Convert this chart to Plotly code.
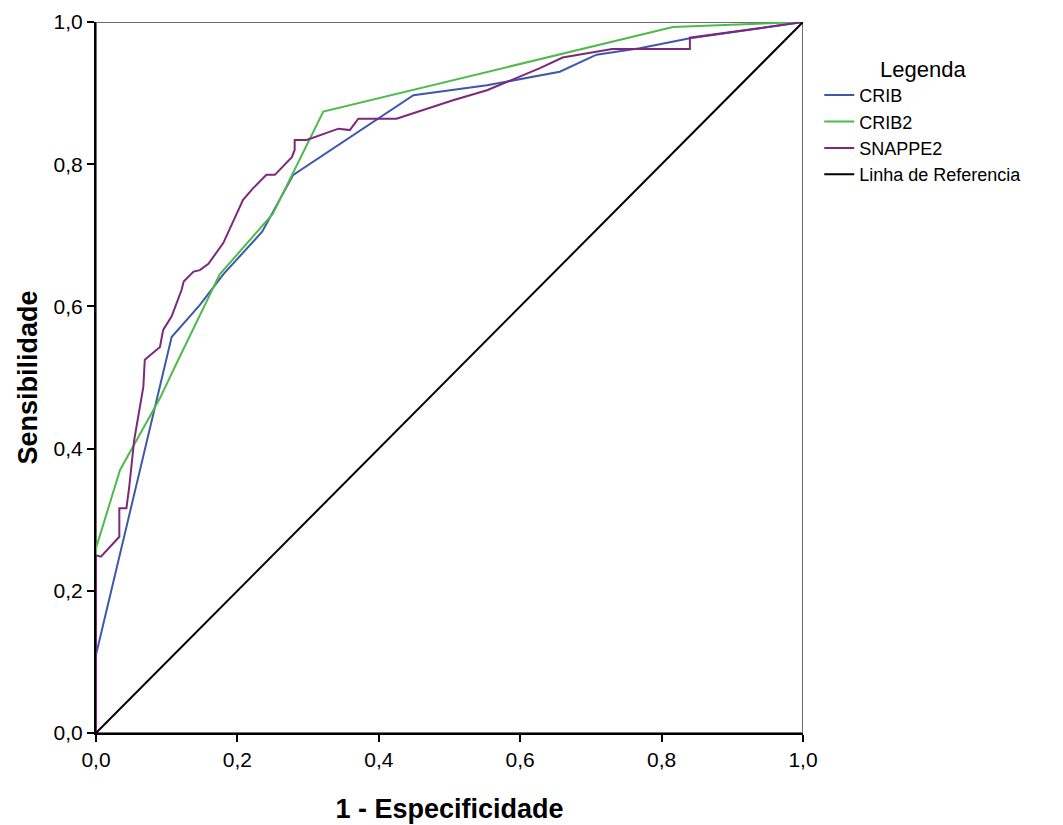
import plotly.graph_objects as go

# ROC curves (1 - specificity, sensitivity)
crib_x = [0.0, 0.0, 0.107, 0.147, 0.18, 0.235, 0.279, 0.449, 0.553, 0.62, 0.656, 0.708, 0.769, 0.84, 1.0]
crib_y = [0.0, 0.11, 0.557, 0.602, 0.645, 0.705, 0.785, 0.897, 0.911, 0.924, 0.930, 0.954, 0.963, 0.977, 1.0]

crib2_x = [0.0, 0.0, 0.034, 0.09, 0.114, 0.175, 0.25, 0.3215, 0.816, 1.0]
crib2_y = [0.0, 0.26, 0.37, 0.47, 0.52, 0.645, 0.73, 0.874, 0.993, 1.0]

snappe2_x = [0.0, 0.0, 0.007, 0.033, 0.033, 0.043, 0.047, 0.054, 0.067, 0.069, 0.0905, 0.093, 0.095,
             0.107, 0.121, 0.124, 0.138, 0.147, 0.159, 0.180, 0.197, 0.208, 0.222, 0.241, 0.253,
             0.277, 0.281, 0.281, 0.298, 0.343, 0.359, 0.371, 0.425, 0.505, 0.553, 0.595, 0.628,
             0.66, 0.73, 0.84, 0.84, 1.0]
snappe2_y = [0.0, 0.25, 0.248, 0.276, 0.316, 0.316, 0.346, 0.412, 0.487, 0.525, 0.543, 0.556, 0.567,
             0.586, 0.623, 0.635, 0.649, 0.651, 0.660, 0.689, 0.726, 0.750, 0.766, 0.785, 0.785,
             0.810, 0.820, 0.834, 0.834, 0.850, 0.848, 0.864, 0.864, 0.890, 0.904, 0.921, 0.935,
             0.950, 0.962, 0.962, 0.978, 1.0]

ref_x = [0.0, 1.0]
ref_y = [0.0, 1.0]

tick_vals = [0.0, 0.2, 0.4, 0.6, 0.8, 1.0]
tick_text = ["0,0", "0,2", "0,4", "0,6", "0,8", "1,0"]

series = [
    ("CRIB", crib_x, crib_y, "#3E58AC"),
    ("CRIB2", crib2_x, crib2_y, "#4DBA4A"),
    ("SNAPPE2", snappe2_x, snappe2_y, "#7C287D"),
    ("Linha de Referencia", ref_x, ref_y, "#000000"),
]

fig = go.Figure()
for name, xs, ys, col in series:
    fig.add_trace(go.Scatter(x=xs, y=ys, mode="lines", name=name,
                             line=dict(color=col, width=2)))

FONT = "Liberation Sans, Arial, sans-serif"

fig.update_layout(
    width=1055, height=817,
    margin=dict(l=88, r=260, t=14, b=92, autoexpand=False),
    paper_bgcolor="white", plot_bgcolor="white",
    font=dict(family=FONT, color="#000000", size=20),
    showlegend=True,
    legend=dict(
        x=1.023, xanchor="left", y=0.963, yanchor="top",
        font=dict(family=FONT, size=18, color="#000000"),
        title=dict(text="Legenda", side="top center", font=dict(family=FONT, size=22)),
        bgcolor="rgba(0,0,0,0)", borderwidth=0,
    ),
    shapes=[dict(type="rect", xref="x", yref="y", x0=0, y0=0, x1=1, y1=1,
                 line=dict(color="#6e6e6e", width=2), layer="below")],
)

fig.update_xaxes(
    range=[0, 1], tickvals=tick_vals, ticktext=tick_text, automargin=False,
    showgrid=False, zeroline=False, showline=True, linecolor="#000000", linewidth=2,
    ticks="outside", ticklen=7, tickwidth=2, tickcolor="#000000",
    tickfont=dict(family=FONT, size=21, color="#000000"),
    title=dict(text="<b>1 - Especificidade</b>", font=dict(family=FONT, size=27), standoff=29),
)
fig.update_yaxes(
    range=[0, 1], tickvals=tick_vals, ticktext=tick_text, automargin=False,
    showgrid=False, zeroline=False, showline=True, linecolor="#000000", linewidth=2,
    ticks="outside", ticklen=7, tickwidth=2, tickcolor="#000000",
    tickfont=dict(family=FONT, size=21, color="#000000"),
    title=dict(text="<b>Sensibilidade</b>", font=dict(family=FONT, size=27), standoff=8),
)

fig.write_html("out.html")
